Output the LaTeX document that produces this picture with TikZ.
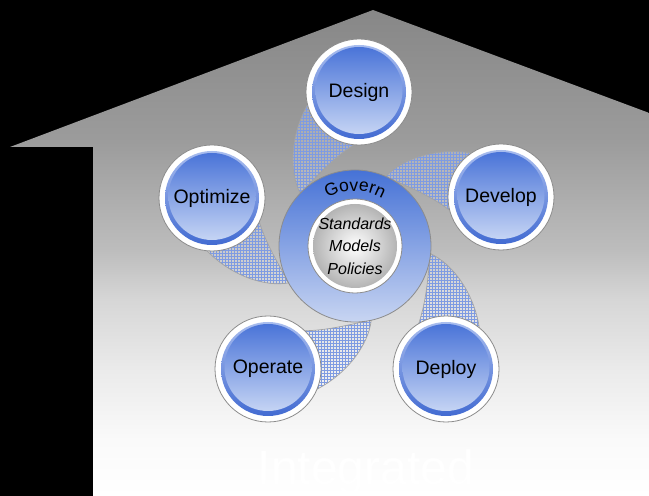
\documentclass[tikz,border=0pt]{standalone}
\usepackage{fontspec}
\setmainfont{Liberation Sans}
\usetikzlibrary{positioning,calc,patterns,decorations.text}

\definecolor{edgegray}{HTML}{8C8C8C}
\definecolor{ringtop}{HTML}{4672D6}
\definecolor{ringbot}{HTML}{C8D5F2}
\definecolor{discdark}{HTML}{4A74D8}
\definecolor{disclight}{HTML}{C5D4F4}
\definecolor{rimlight}{HTML}{AFC2F0}
\definecolor{rimdark}{HTML}{3C66D0}
\definecolor{hatchblue}{HTML}{7E9BE2}

\pgfdeclareverticalshading{housefade}{100bp}{color(0bp)=(white); color(25bp)=(white); color(30.8bp)=(black!2); color(38bp)=(black!8); color(45.2bp)=(black!16); color(50.3bp)=(black!26); color(61.6bp)=(black!39); color(75bp)=(black!47); color(100bp)=(black!47)}

\begin{document}
\begin{tikzpicture}[x=1pt, y=1pt]
  % Define styles
  \tikzstyle{stage} = [circle, draw=edgegray, line width=0.8pt, fill=white, minimum size=106pt, inner sep=0pt, font=\fontsize{19.5}{20}\selectfont, path picture={
      \shade[top color=rimlight, bottom color=rimdark] (path picture bounding box.center) circle (47);
      \shade[top color=discdark, bottom color=disclight] ([yshift=1.5pt]path picture bounding box.center) circle (43.5);}]
  \tikzstyle{govring} = [circle, draw=edgegray, line width=0.8pt, top color=ringtop, bottom color=ringbot, minimum size=152pt, inner sep=0pt]
  \tikzstyle{core} = [circle, draw=edgegray, line width=0.8pt, fill=white, minimum size=94pt, inner sep=0pt, align=center, font=\fontsize{16}{22.5}\selectfont\itshape, path picture={
      \shade[inner color=white, outer color=black!33] (path picture bounding box.center) circle (42);}]
  \tikzstyle{blade} = [draw=edgegray!80, line width=0.7pt, preaction={fill=white, fill opacity=0.2}, pattern=grid, pattern color=hatchblue]

  % Backdrop and house
  \useasboundingbox (0,0) rectangle (649,496);
  \fill[black] (0,0) rectangle (649,496);
  \clip (0,0) rectangle (649,496);
  \shade[shading=housefade] (10,349) -- (373,486) -- (660,379) -- (660,0) -- (93,0) -- (93,349) -- cycle;

  % Blades behind the wheel
  \coordinate (hub) at (355,250);
  \foreach \ang in {-1.5,-71.5,-143.5,-215.3,71.4}
    \draw[blade, shift={(hub)}, rotate=\ang] (-50,142) .. controls (-68,110) and (-68,72) .. (-56,51) .. controls (-42,66) and (-26,86) .. (-4,101) -- (0,153) -- cycle;

  % Hub
  \node[govring] (govern) at (hub) {};
  \path[decorate, decoration={text along path, text align=center, text={|\fontsize{17.5}{18}\selectfont|Govern}}] ([shift={(128:55)}]govern.center) arc[start angle=128, end angle=52, radius=55];
  \node[core] (core) at (govern) {Standards\\Models\\Policies};

  % Stages
  \node[stage] (design) at (359,404) {Design};
  \node[stage] (develop) at (501,299) {Develop};
  \node[stage] (deploy) at (446,127) {Deploy};
  \node[stage] (operate) at (268,127) {Operate};
  \node[stage] (optimize) at (212,298) {Optimize};

  % Caption
  \node[anchor=base, text=white, font=\fontsize{48}{48}\selectfont] (title) at (366,11) {Integrated};
\end{tikzpicture}
\end{document}
